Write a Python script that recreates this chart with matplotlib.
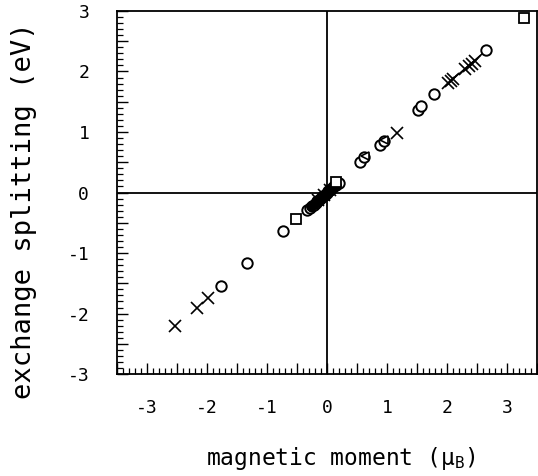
import matplotlib
matplotlib.use('Agg')
import matplotlib.pyplot as plt
from matplotlib.ticker import MultipleLocator, FuncFormatter

plt.rcParams['font.family'] = ['DejaVu Sans Mono']
plt.rcParams['mathtext.fontset'] = 'custom'
plt.rcParams['mathtext.rm'] = 'DejaVu Sans Mono'

# magnetic moment (muB) vs exchange splitting (eV)
circ_m = [-1.77, -1.33, -0.74, -0.33, -0.28, -0.25, -0.22, -0.19, -0.16, -0.13,
          -0.10, -0.07, -0.04, -0.01, 0.02, 0.05, 0.08, 0.11, 0.14, 0.19,
          0.55, 0.62, 0.88, 0.94, 1.52, 1.57, 1.78, 2.65]
circ_e = [-1.55, -1.16, -0.64, -0.29, -0.25, -0.22, -0.20, -0.17, -0.14, -0.12,
          -0.09, -0.06, -0.04, -0.01, 0.02, 0.04, 0.07, 0.10, 0.12, 0.16,
          0.50, 0.59, 0.79, 0.85, 1.37, 1.43, 1.63, 2.35]

cross_m = [-2.53, -2.16, -1.98, -0.15, -0.05, 0.05, 1.16, 2.02, 2.06, 2.10,
           2.30, 2.36, 2.42, 2.46]
cross_e = [-2.21, -1.91, -1.75, -0.13, -0.04, 0.05, 0.99, 1.81, 1.84, 1.87,
           2.04, 2.09, 2.13, 2.17]

sq_m = [-0.52, 0.14, 3.28]
sq_e = [-0.43, 0.17, 2.89]

tri_m = [0.63, 0.95]
tri_e = [0.61, 0.87]

# dense run of overlapping points near the origin
blob_m = [-0.26, -0.22, -0.18, -0.14, -0.10, -0.06, -0.02, 0.02, 0.06, 0.10, 0.14]
blob_e = [-0.23, -0.19, -0.16, -0.12, -0.09, -0.05, -0.02, 0.02, 0.05, 0.09, 0.12]

# short fitted segment through the high-moment group
seg_m = [2.02, 2.65]
seg_e = [1.81, 2.35]

fig = plt.figure(figsize=(5.38, 4.76), dpi=100)
ax = fig.add_axes([0.2175, 0.214, 0.781, 0.763])

ax.axhline(0, color='black', lw=1.3, zorder=1)
ax.axvline(0, color='black', lw=1.3, zorder=1)

ax.plot(seg_m, seg_e, '-', color='black', lw=1.0)
ax.plot(circ_m, circ_e, 'o', ms=7.5, mfc='white', mec='black', mew=1.4, ls='none')
ax.plot(blob_m, blob_e, 'o', ms=6.5, mfc='black', mec='black', mew=1.0, ls='none')
ax.plot(cross_m, cross_e, 'x', ms=8, color='black', mew=1.2, ls='none')
ax.plot(sq_m, sq_e, 's', ms=6.5, mfc='white', mec='black', mew=1.3, ls='none')
ax.plot(tri_m, tri_e, '<', ms=6, mfc='white', mec='black', mew=1.2, ls='none')

ax.set_xlim(-3.5, 3.5)
ax.set_ylim(-3, 3)

for sp in ax.spines.values():
    sp.set_linewidth(1.3)

fmt = FuncFormatter(lambda v, p: f'{int(round(v))}' if abs(v - round(v)) < 1e-6 else '')
ax.xaxis.set_major_locator(MultipleLocator(0.5))
ax.yaxis.set_major_locator(MultipleLocator(0.5))
ax.xaxis.set_minor_locator(MultipleLocator(0.1))
ax.yaxis.set_minor_locator(MultipleLocator(0.1))
ax.xaxis.set_major_formatter(fmt)
ax.yaxis.set_major_formatter(fmt)
ax.tick_params(which='major', direction='in', length=8, width=1.0, labelsize=13, pad=18,
               top=False, right=False)
ax.tick_params(which='minor', direction='in', length=4, width=0.9, top=False, right=False)
ax.tick_params(axis='y', which='major', pad=20)

ax.set_xlabel(r'magnetic moment ($\mathregular{\mu_B}$)', fontsize=16.5)
ax.set_ylabel('exchange splitting (eV)', fontsize=19.5)
ax.xaxis.set_label_coords(0.533, -0.251, transform=ax.transAxes)
ax.xaxis.label.set_va('baseline')
ax.yaxis.set_label_coords(-0.221, 0.449, transform=ax.transAxes)
ax.yaxis.label.set_va('center')

fig.savefig('out.png', dpi=100)
